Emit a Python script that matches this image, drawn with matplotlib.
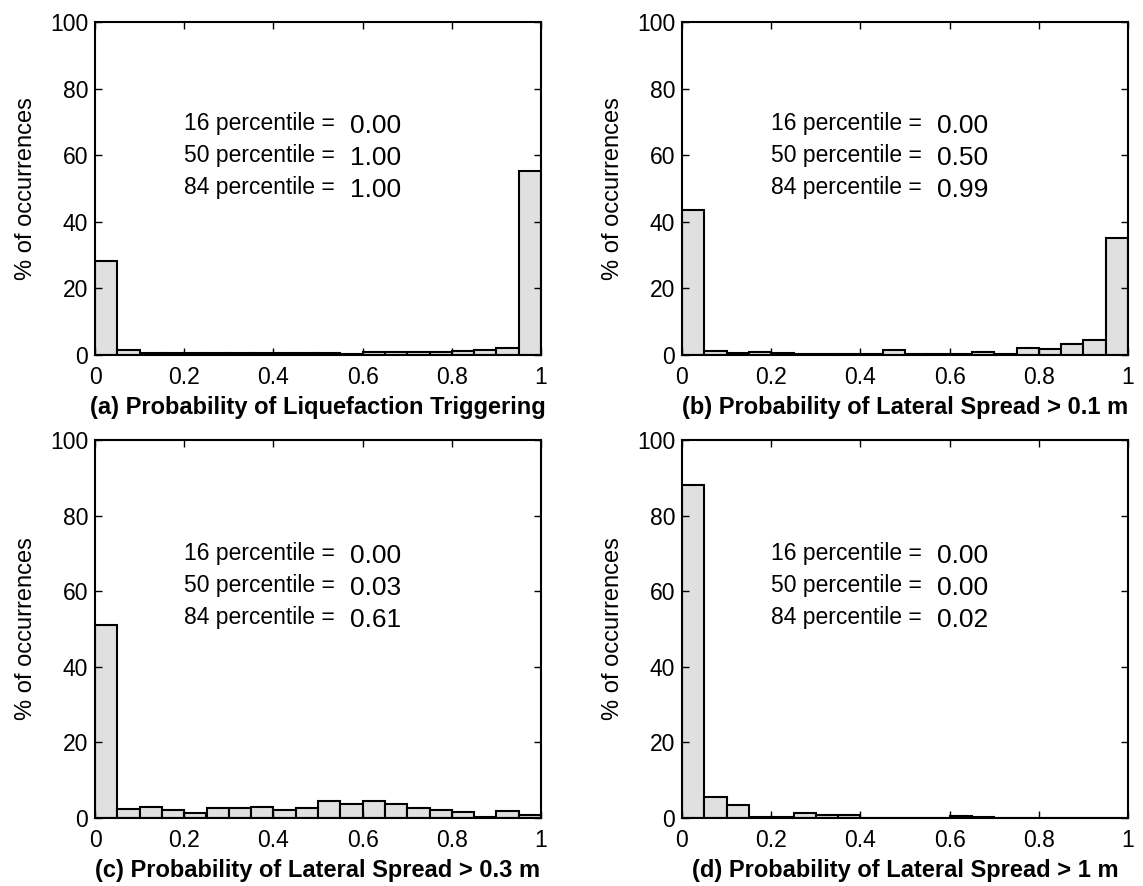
import numpy as np
import matplotlib
matplotlib.use("Agg")
import matplotlib.pyplot as plt

plt.rcParams['font.family'] = ['Liberation Sans', 'DejaVu Sans']

# bin edges: 20 bins of width 0.05 on [0, 1]
bin_left = np.arange(20) * 0.05

pct_a = [28.2, 1.5, 0.7, 0.5, 0.5, 0.5, 0.5, 0.5, 0.5, 0.5,
         0.6, 0.2, 0.8, 0.8, 0.8, 0.8, 1.1, 1.5, 2.0, 55.3]
pct_b = [43.5, 1.2, 0.6, 0.9, 0.5, 0.4, 0.2, 0.2, 0.3, 1.4,
         0.4, 0.3, 0.4, 0.9, 0.3, 2.2, 1.7, 3.3, 4.6, 35.2]
pct_c = [51.0, 2.3, 2.9, 2.1, 1.4, 2.6, 2.6, 2.8, 2.0, 2.7,
         4.5, 3.8, 4.5, 3.6, 2.6, 2.0, 1.6, 0.3, 1.9, 0.8]
pct_d = [88.0, 5.5, 3.4, 0.2, 0.2, 1.2, 0.8, 0.8, 0.1, 0.1,
         0.1, 0.1, 0.4, 0.2, 0.1, 0.1, 0.1, 0.1, 0.1, 0.1]

titles = ["(a) Probability of Liquefaction Triggering",
          "(b) Probability of Lateral Spread > 0.1 m",
          "(c) Probability of Lateral Spread > 0.3 m",
          "(d) Probability of Lateral Spread > 1 m"]
pct_names = ["16 percentile =", "50 percentile =", "84 percentile ="]
pct_values = [["0.00", "1.00", "1.00"],
              ["0.00", "0.50", "0.99"],
              ["0.00", "0.03", "0.61"],
              ["0.00", "0.00", "0.02"]]
all_pct = [pct_a, pct_b, pct_c, pct_d]

W, H = 1143, 886
fig = plt.figure(figsize=(W / 100, H / 100), dpi=100)
# axes boxes in pixels: left, top, right, bottom
boxes = [(95, 22, 541, 355), (682, 22, 1128, 355),
         (95, 440, 541, 818), (682, 440, 1128, 818)]
text_top = [0.695, 0.695, 0.70, 0.70]

for i in range(4):
    l, t, r, b = boxes[i]
    ax = fig.add_axes([l / W, 1 - b / H, (r - l) / W, (b - t) / H])
    ax.bar(bin_left, all_pct[i], width=0.05, align='edge',
           color='#e0e0e0', edgecolor='black', linewidth=1.5)
    ax.set_xlim(0, 1)
    ax.set_ylim(0, 100)
    ax.set_xticks([0, 0.2, 0.4, 0.6, 0.8, 1])
    ax.set_xticklabels(["0", "0.2", "0.4", "0.6", "0.8", "1"])
    ax.set_yticks([0, 20, 40, 60, 80, 100])
    ax.tick_params(direction='in', top=True, right=True, length=5,
                   width=1, labelsize=16.5)
    ax.tick_params(axis='x', pad=8)
    ax.tick_params(axis='y', pad=5)
    for s in ax.spines.values():
        s.set_linewidth(1.5)
    ax.set_xlabel(titles[i], fontsize=17, fontweight='bold', labelpad=5)
    ax.set_ylabel("% of occurrences", fontsize=17, labelpad=9)
    for j in range(3):
        ax.annotate(pct_names[j], xy=(0.2, text_top[i]), xycoords='axes fraction',
                    xytext=(0, -23 * j), textcoords='offset points',
                    fontsize=16.5, va='center', ha='left')
        ax.annotate(pct_values[i][j], xy=(0.572, text_top[i]), xycoords='axes fraction',
                    xytext=(0, -23 * j - 2), textcoords='offset points',
                    fontsize=19, va='center', ha='left')

fig.savefig("out.png", dpi=100, facecolor='white')
